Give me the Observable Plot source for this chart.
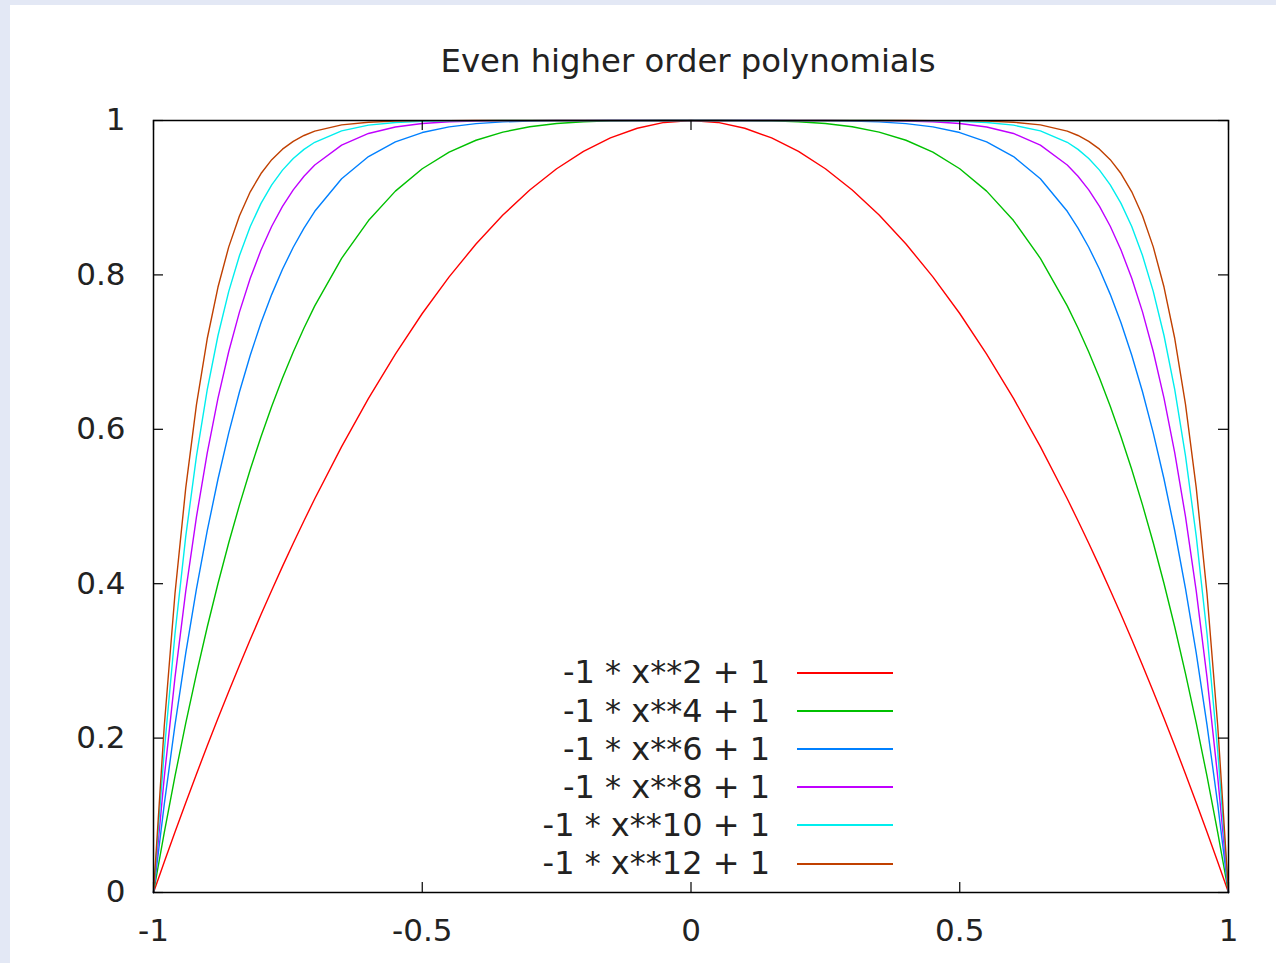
<!DOCTYPE html>
<html>
<head>
<meta charset="utf-8">
<script src="https://cdn.jsdelivr.net/npm/d3@7"></script>
<script src="https://cdn.jsdelivr.net/npm/@observablehq/plot@0.6"></script>
<style>
  html, body { margin: 0; padding: 0; }
  body { width: 1276px; height: 963px; background: #e3e8f5; overflow: hidden; position: relative; font-family: "DejaVu Sans", sans-serif; color: #222; }
  #page { position: absolute; left: 10px; top: 5px; width: 1266px; height: 958px; background: #fff; }
  #title { position: absolute; left: 178px; width: 1000px; top: 40px; text-align: center; font-size: 32.3px; line-height: 32px; white-space: nowrap; }
  #chart { position: absolute; left: 0; top: 95px; }
  .lg-text { position: absolute; left: 360px; width: 400px; text-align: right; font-size: 32px; line-height: 32px; white-space: pre; }
  .lg-line { position: absolute; left: 787px; width: 96px; height: 2px; }
</style>
</head>
<body>
<div id="page">
  <div id="title">Even higher order polynomials</div>
  <div id="chart"></div>
  <div id="legend"></div>
</div>
<script>
// Sample positions (x) and values for each curve
const xs = [-1, -0.98, -0.96, -0.94, -0.92, -0.9, -0.88, -0.86, -0.84, -0.82, -0.8, -0.78, -0.76, -0.74, -0.72, -0.7, -0.65, -0.6, -0.55, -0.5, -0.45, -0.4, -0.35, -0.3, -0.25, -0.2, -0.15, -0.1, -0.05,
            0, 0.05, 0.1, 0.15, 0.2, 0.25, 0.3, 0.35, 0.4, 0.45, 0.5, 0.55, 0.6, 0.65, 0.7, 0.72, 0.74, 0.76, 0.78, 0.8, 0.82, 0.84, 0.86, 0.88, 0.9, 0.92, 0.94, 0.96, 0.98, 1];

const y2 = [0, 0.0396, 0.0784, 0.1164, 0.1536, 0.19, 0.2256, 0.2604, 0.2944, 0.3276, 0.36, 0.3916, 0.4224, 0.4524, 0.4816, 0.51, 0.5775, 0.64, 0.6975, 0.75, 0.7975, 0.84, 0.8775, 0.91, 0.9375, 0.96, 0.9775, 0.99, 0.9975,
            1, 0.9975, 0.99, 0.9775, 0.96, 0.9375, 0.91, 0.8775, 0.84, 0.7975, 0.75, 0.6975, 0.64, 0.5775, 0.51, 0.4816, 0.4524, 0.4224, 0.3916, 0.36, 0.3276, 0.2944, 0.2604, 0.2256, 0.19, 0.1536, 0.1164, 0.0784, 0.0396, 0];
const y4 = [0, 0.0776, 0.1507, 0.2193, 0.2836, 0.3439, 0.4003, 0.453, 0.5021, 0.5479, 0.5904, 0.6299, 0.6664, 0.7001, 0.7313, 0.7599, 0.8215, 0.8704, 0.9085, 0.9375, 0.959, 0.9744, 0.985, 0.9919, 0.9961, 0.9984, 0.9995, 0.9999, 1,
            1, 1, 0.9999, 0.9995, 0.9984, 0.9961, 0.9919, 0.985, 0.9744, 0.959, 0.9375, 0.9085, 0.8704, 0.8215, 0.7599, 0.7313, 0.7001, 0.6664, 0.6299, 0.5904, 0.5479, 0.5021, 0.453, 0.4003, 0.3439, 0.2836, 0.2193, 0.1507, 0.0776, 0];
const y6 = [0, 0.1142, 0.2172, 0.3101, 0.3936, 0.4686, 0.5356, 0.5954, 0.6487, 0.696, 0.7379, 0.7748, 0.8073, 0.8358, 0.8607, 0.8824, 0.9246, 0.9533, 0.9723, 0.9844, 0.9917, 0.9959, 0.9982, 0.9993, 0.9998, 0.9999, 1, 1, 1,
            1, 1, 1, 1, 0.9999, 0.9998, 0.9993, 0.9982, 0.9959, 0.9917, 0.9844, 0.9723, 0.9533, 0.9246, 0.8824, 0.8607, 0.8358, 0.8073, 0.7748, 0.7379, 0.696, 0.6487, 0.5954, 0.5356, 0.4686, 0.3936, 0.3101, 0.2172, 0.1142, 0];
const y8 = [0, 0.1492, 0.2786, 0.3904, 0.4868, 0.5695, 0.6404, 0.7008, 0.7521, 0.7956, 0.8322, 0.863, 0.8887, 0.9101, 0.9278, 0.9424, 0.9681, 0.9832, 0.9916, 0.9961, 0.9983, 0.9993, 0.9998, 0.9999, 1, 1, 1, 1, 1,
            1, 1, 1, 1, 1, 1, 0.9999, 0.9998, 0.9993, 0.9983, 0.9961, 0.9916, 0.9832, 0.9681, 0.9424, 0.9278, 0.9101, 0.8887, 0.863, 0.8322, 0.7956, 0.7521, 0.7008, 0.6404, 0.5695, 0.4868, 0.3904, 0.2786, 0.1492, 0];
const y10 = [0, 0.1829, 0.3352, 0.4614, 0.5656, 0.6513, 0.7215, 0.7787, 0.8251, 0.8626, 0.8926, 0.9166, 0.9357, 0.9508, 0.9626, 0.9718, 0.9865, 0.994, 0.9975, 0.999, 0.9997, 0.9999, 1, 1, 1, 1, 1, 1, 1,
             1, 1, 1, 1, 1, 1, 1, 1, 0.9999, 0.9997, 0.999, 0.9975, 0.994, 0.9865, 0.9718, 0.9626, 0.9508, 0.9357, 0.9166, 0.8926, 0.8626, 0.8251, 0.7787, 0.7215, 0.6513, 0.5656, 0.4614, 0.3352, 0.1829, 0];
const y12 = [0, 0.2153, 0.3873, 0.5241, 0.6323, 0.7176, 0.7843, 0.8363, 0.8766, 0.9076, 0.9313, 0.9493, 0.9629, 0.973, 0.9806, 0.9862, 0.9943, 0.9978, 0.9992, 0.9998, 0.9999, 1, 1, 1, 1, 1, 1, 1, 1,
             1, 1, 1, 1, 1, 1, 1, 1, 1, 0.9999, 0.9998, 0.9992, 0.9978, 0.9943, 0.9862, 0.9806, 0.973, 0.9629, 0.9493, 0.9313, 0.9076, 0.8766, 0.8363, 0.7843, 0.7176, 0.6323, 0.5241, 0.3873, 0.2153, 0];

const seriesLabels = ["-1 * x**2 + 1", "-1 * x**4 + 1", "-1 * x**6 + 1", "-1 * x**8 + 1", "-1 * x**10 + 1", "-1 * x**12 + 1"];
const seriesColors = ["#ff0000", "#00c000", "#0080ff", "#c000ff", "#00eeee", "#c04000"];
const seriesValues = [y2, y4, y6, y8, y10, y12];

const xTicks = [-1, -0.5, 0, 0.5, 1];
const yTicks = [0, 0.2, 0.4, 0.6, 0.8, 1];

const rows = [];
seriesValues.forEach((vals, i) => {
  vals.forEach((v, j) => rows.push({series: seriesLabels[i], x: xs[j], y: v}));
});

const W = 1266, H = 852, mL = 143, mR = 48, mT = 20, mB = 60;
const fw = W - mL - mR, fh = H - mT - mB, tl = 10;

const chart = Plot.plot({
  width: W, height: H,
  marginLeft: mL, marginRight: mR, marginTop: mT, marginBottom: mB,
  style: {fontFamily: "DejaVu Sans, sans-serif", background: "transparent", color: "#222"},
  x: {domain: [-1, 1]},
  y: {domain: [0, 1]},
  color: {domain: seriesLabels, range: seriesColors},
  marks: [
    Plot.line(rows, {x: "x", y: "y", z: "series", stroke: "series", strokeWidth: 1.4}),
    Plot.frame({stroke: "#000", strokeWidth: 1.5}),
    Plot.tickX(xTicks, {x: d => d, insetTop: fh - tl, stroke: "#000", strokeWidth: 1.2}),
    Plot.tickX(xTicks, {x: d => d, insetBottom: fh - tl, stroke: "#000", strokeWidth: 1.2}),
    Plot.tickY(yTicks, {y: d => d, insetRight: fw - tl, stroke: "#000", strokeWidth: 1.2}),
    Plot.tickY(yTicks, {y: d => d, insetLeft: fw - tl, stroke: "#000", strokeWidth: 1.2}),
    Plot.axisX({ticks: xTicks, tickFormat: d => String(d), tickSize: 0, tickPadding: 26, fontSize: 31, label: null}),
    Plot.axisY({ticks: yTicks, tickFormat: d => String(d), tickSize: 0, tickPadding: 28, fontSize: 31, label: null})
  ]
});
document.getElementById("chart").appendChild(chart);

// Legend (gnuplot-style key inside the plot)
const legend = document.getElementById("legend");
seriesLabels.forEach((lab, i) => {
  const cy = 667.5 + i * 38.2; // page-relative line y
  const t = document.createElement("div");
  t.className = "lg-text";
  t.textContent = lab;
  t.style.top = (cy + 11 - 27.1) + "px";
  legend.appendChild(t);
  const l = document.createElement("div");
  l.className = "lg-line";
  l.style.top = Math.round(cy - 1) + "px";
  l.style.background = seriesColors[i];
  legend.appendChild(l);
});
</script>
</body>
</html>
